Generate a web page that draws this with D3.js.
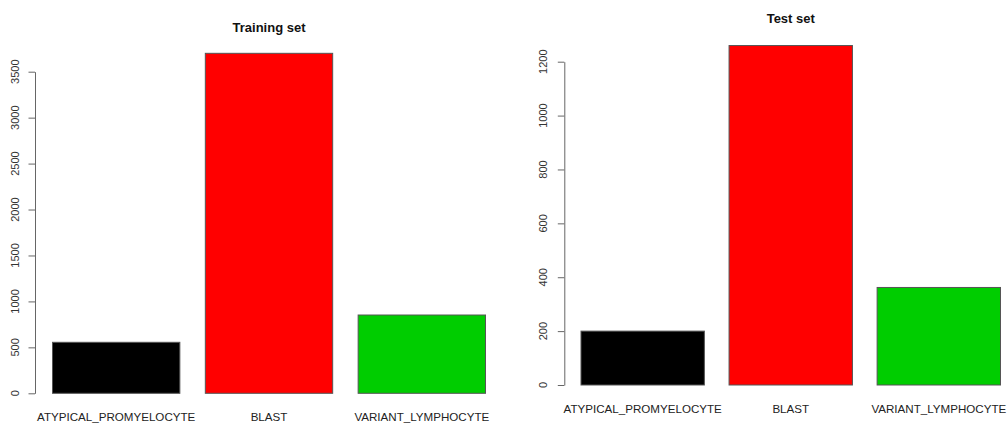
<!DOCTYPE html>
<html>
<head>
<meta charset="utf-8">
<script src="https://cdn.jsdelivr.net/npm/d3@7"></script>
<style>
  html, body { margin: 0; padding: 0; background: #fff; }
  svg { display: block; font-family: "Liberation Sans", Arial, Helvetica, sans-serif; }
</style>
</head>
<body>
<svg id="chart" width="1008" height="423"></svg>
<script>
// Cell counts per class for each data split
const categories = ["ATYPICAL_PROMYELOCYTE", "BLAST", "VARIANT_LYMPHOCYTE"];
const barColors = ["#000000", "#ff0000", "#00cd00"];
const trainingCounts = [555, 3700, 852];
const testCounts = [200, 1260, 362];
const trainingTicks = [0, 500, 1000, 1500, 2000, 2500, 3000, 3500];
const testTicks = [0, 200, 400, 600, 800, 1000, 1200];

const svg = d3.select("#chart");

// Each panel: title, vertical axis with rotated labels, bars and category names
const panels = [
  { title: "Training set", values: trainingCounts, ticks: trainingTicks, yMax: 3500,
    axisX: 35, yBottom: 393.3, yTop: 71.7, barLeft: 52.5, barRight: 485.5,
    titleY: 27, catY: 417, tickLabelX: 15 },
  { title: "Test set", values: testCounts, ticks: testTicks, yMax: 1200,
    axisX: 564.3, yBottom: 385, yTop: 61.7, barLeft: 581, barRight: 1000.5,
    titleY: 18, catY: 408.5, tickLabelX: 543.5 }
];

panels.forEach(p => {
  const g = svg.append("g");

  const x = d3.scaleBand()
    .domain(categories)
    .range([p.barLeft, p.barRight])
    .paddingInner(1 / 6)
    .paddingOuter(0);

  const y = d3.scaleLinear()
    .domain([0, p.yMax])
    .range([p.yBottom, p.yTop]);

  // bars
  g.selectAll("rect.bar")
    .data(categories.map((c, i) => ({ c, v: p.values[i], col: barColors[i] })))
    .join("rect")
    .attr("class", "bar")
    .attr("x", d => x(d.c))
    .attr("width", x.bandwidth())
    .attr("y", d => y(d.v))
    .attr("height", d => y(0) - y(d.v))
    .attr("fill", d => d.col)
    .attr("stroke", "#555")
    .attr("stroke-width", 1);

  // y axis
  const axis = d3.axisLeft(y)
    .tickValues(p.ticks)
    .tickSize(6.5)
    .tickSizeOuter(0)
    .tickFormat(d3.format("d"));

  const ax = g.append("g")
    .attr("transform", `translate(${p.axisX},0)`)
    .call(axis);
  ax.select(".domain").attr("stroke", "#666");
  ax.selectAll(".tick line").attr("stroke", "#666");
  ax.selectAll(".tick text").remove();

  // rotated tick labels
  g.selectAll("text.ytick")
    .data(p.ticks)
    .join("text")
    .attr("class", "ytick")
    .attr("transform", d => `translate(${p.tickLabelX},${y(d)}) rotate(-90)`)
    .attr("text-anchor", "middle")
    .attr("dy", "0.35em")
    .attr("font-size", 11)
    .attr("fill", "#333")
    .text(d => d);

  // category labels
  g.selectAll("text.cat")
    .data(categories)
    .join("text")
    .attr("class", "cat")
    .attr("x", d => x(d) + x.bandwidth() / 2)
    .attr("y", p.catY)
    .attr("dy", "0.35em")
    .attr("text-anchor", "middle")
    .attr("font-size", 11.6)
    .attr("fill", "#222")
    .text(d => d);

  // title
  g.append("text")
    .attr("x", x(categories[1]) + x.bandwidth() / 2)
    .attr("y", p.titleY)
    .attr("dy", "0.35em")
    .attr("text-anchor", "middle")
    .attr("font-size", 13)
    .attr("font-weight", "bold")
    .attr("fill", "#111")
    .text(p.title);
});
</script>
</body>
</html>
